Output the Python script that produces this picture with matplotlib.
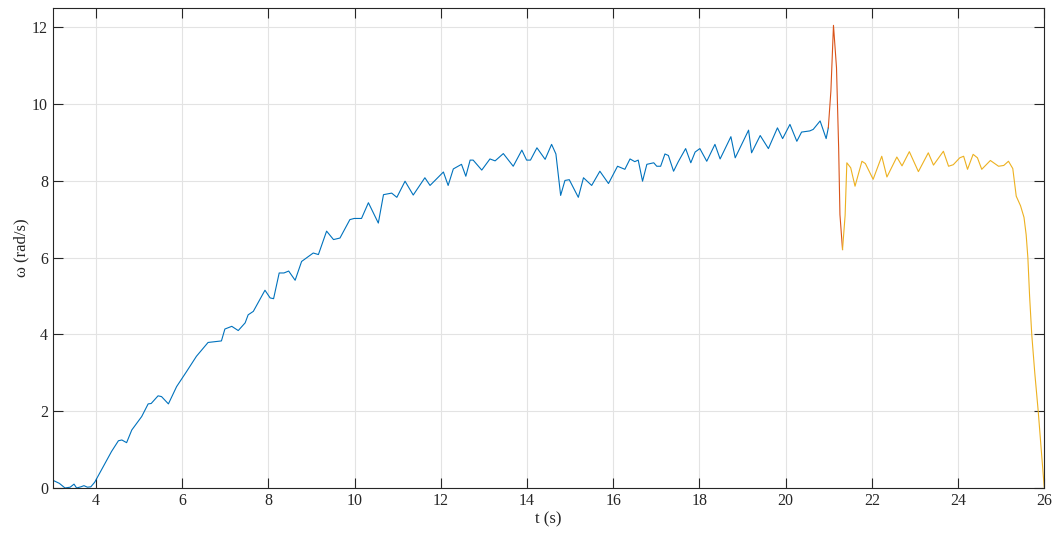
import numpy as np
import matplotlib
matplotlib.use('Agg')
import matplotlib.pyplot as plt

# Velocidade angular medida em três fases do ensaio
t_fase1 = [3.00, 3.15, 3.28, 3.40, 3.49, 3.55, 3.65, 3.72, 3.80, 3.88, 3.97,
           4.17, 4.36, 4.52, 4.60, 4.71, 4.83, 5.06, 5.21, 5.28, 5.44, 5.52,
           5.68, 5.87, 6.10, 6.33, 6.60, 6.91, 6.99, 7.15, 7.30, 7.46, 7.53,
           7.65, 7.92, 8.04, 8.12, 8.25, 8.36, 8.47, 8.62, 8.77, 9.04, 9.16,
           9.35, 9.51, 9.66, 9.89, 9.99, 10.16, 10.32, 10.55, 10.67, 10.86,
           10.98, 11.17, 11.36, 11.63, 11.75, 12.06, 12.17, 12.29, 12.48,
           12.58, 12.68, 12.75, 12.95, 13.14, 13.26, 13.45, 13.68, 13.88,
           13.99, 14.08, 14.23, 14.42, 14.57, 14.67, 14.78, 14.88, 14.98,
           15.19, 15.31, 15.50, 15.69, 15.89, 16.10, 16.27, 16.39, 16.50,
           16.58, 16.68, 16.78, 16.94, 17.01, 17.10, 17.20, 17.28, 17.40,
           17.51, 17.68, 17.80, 17.90, 18.01, 18.17, 18.36, 18.48, 18.73,
           18.83, 19.14, 19.21, 19.41, 19.60, 19.81, 19.93, 20.10, 20.26,
           20.37, 20.56, 20.64, 20.80, 20.94, 20.99]
w_fase1 = [0.20, 0.12, 0.00, 0.02, 0.10, 0.00, 0.03, 0.06, 0.02, 0.03, 0.15,
           0.56, 0.95, 1.23, 1.25, 1.18, 1.51, 1.86, 2.19, 2.20, 2.40, 2.38,
           2.19, 2.64, 3.03, 3.43, 3.79, 3.83, 4.14, 4.21, 4.10, 4.30, 4.51,
           4.60, 5.15, 4.95, 4.93, 5.60, 5.60, 5.65, 5.41, 5.90, 6.12, 6.08,
           6.69, 6.47, 6.51, 6.99, 7.02, 7.02, 7.43, 6.90, 7.64, 7.68,
           7.57, 7.99, 7.63, 8.08, 7.88, 8.23, 7.88, 8.31, 8.43,
           8.12, 8.54, 8.54, 8.28, 8.57, 8.52, 8.71, 8.38, 8.80,
           8.54, 8.54, 8.86, 8.56, 8.95, 8.70, 7.62, 8.01, 8.03,
           7.57, 8.08, 7.88, 8.25, 7.93, 8.38, 8.30, 8.57, 8.50,
           8.54, 7.99, 8.43, 8.47, 8.38, 8.38, 8.70, 8.66, 8.25,
           8.50, 8.84, 8.47, 8.75, 8.84, 8.51, 8.95, 8.57, 9.15,
           8.60, 9.32, 8.73, 9.18, 8.84, 9.38, 9.10, 9.47, 9.03,
           9.27, 9.30, 9.34, 9.56, 9.10, 9.38]

t_fase2 = [20.99, 21.05, 21.11, 21.18, 21.23, 21.26, 21.32]
w_fase2 = [9.38, 10.34, 12.05, 10.95, 8.86, 7.12, 6.21]

t_fase3 = [21.32, 21.38, 21.42, 21.51, 21.61, 21.77, 21.85, 22.03, 22.23,
           22.35, 22.58, 22.70, 22.87, 23.08, 23.31, 23.43, 23.66, 23.78,
           23.89, 24.04, 24.13, 24.22, 24.35, 24.45, 24.55, 24.75, 24.94,
           25.06, 25.17, 25.27, 25.35, 25.45, 25.53, 25.58, 25.62, 25.66,
           25.71, 25.78, 25.86, 25.93, 26.00]
w_fase3 = [6.21, 7.10, 8.47, 8.34, 7.86, 8.51, 8.45, 8.04, 8.64,
           8.10, 8.62, 8.39, 8.76, 8.24, 8.73, 8.41, 8.77, 8.38,
           8.42, 8.60, 8.64, 8.30, 8.69, 8.60, 8.30, 8.53, 8.38,
           8.40, 8.51, 8.32, 7.60, 7.35, 7.05, 6.60, 6.00, 5.00,
           4.00, 3.00, 2.00, 1.00, 0.02]

plt.rcParams['font.family'] = ['Liberation Serif', 'DejaVu Serif']

fig = plt.figure(figsize=(10.58, 5.38), dpi=100)
ax = fig.add_axes([0.050, 0.093, 0.937, 0.892])

ax.plot(t_fase1, w_fase1, color='#0072BD', lw=0.8)
ax.plot(t_fase2, w_fase2, color='#D95319', lw=0.8)
ax.plot(t_fase3, w_fase3, color='#EDB120', lw=0.8)

ax.set_xlim(3, 26)
ax.set_ylim(0, 12.5)
ax.set_xticks(np.arange(4, 27, 2))
ax.set_yticks(np.arange(0, 13, 2))

ax.grid(True, color='#e3e3e3', lw=0.8)
ax.set_axisbelow(True)
ax.tick_params(direction='in', length=7, width=0.8, top=True, right=True,
               labelsize=11.5, colors='#262626')
for s in ax.spines.values():
    s.set_color('#262626')
    s.set_linewidth(0.8)

ax.set_xlabel('t (s)', fontsize=12, color='#262626', labelpad=2)
ax.set_ylabel('ω (rad/s)', fontsize=12, color='#262626', labelpad=2)

fig.savefig('out.png', dpi=100)
